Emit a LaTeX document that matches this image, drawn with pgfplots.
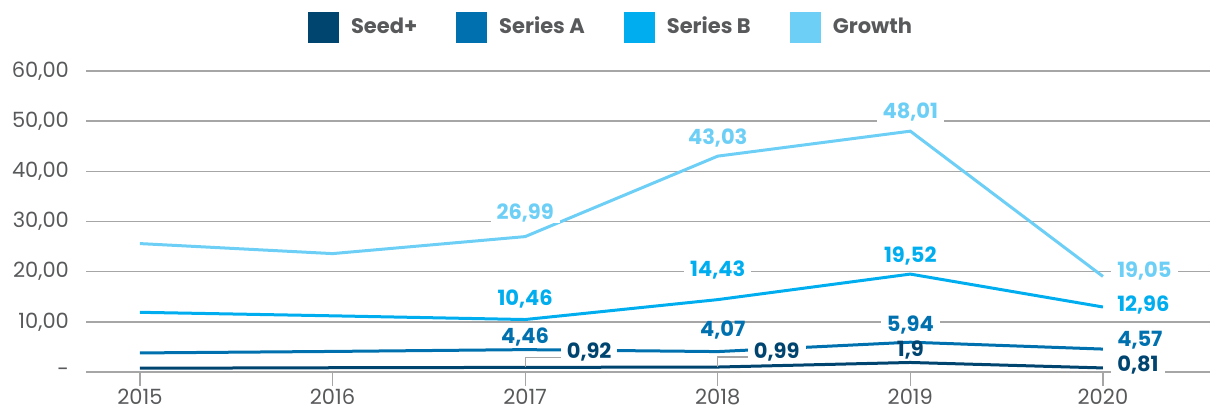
\documentclass[border=0pt]{standalone}
\usepackage{fontspec}
\setmainfont{Poppins}
\usepackage{pgfplots}
\pgfplotsset{compat=1.18}
\definecolor{cseed}{HTML}{004470}
\definecolor{csera}{HTML}{0071AE}
\definecolor{cserb}{HTML}{00AEEF}
\definecolor{cgrow}{HTML}{6DCFF6}
\definecolor{txt}{HTML}{58595B}
\definecolor{gridc}{HTML}{A6A6A6}
\begin{document}
\begin{tikzpicture}
\useasboundingbox (-43pt,-20pt) rectangle (566.5pt,186pt);
\begin{axis}[
  at={(0,0)}, anchor=south west,
  scale only axis, width=562pt, height=150.5pt,
  xmin=-0.28, xmax=5.556, ymin=0, ymax=60,
  xtick={0,1,2,3,4,5},
  xticklabels={2015,2016,2017,2018,2019,2020},
  ytick={0,10,20,30,40,50,60},
  yticklabels={-,{10,00},{20,00},{30,00},{40,00},{50,00},{60,00}},
  axis lines*=left,
  y axis line style={draw=none},
  x axis line style={draw=gridc, line width=0.75pt},
  ymajorgrids, grid style={draw=gridc, line width=0.75pt},
  ytick style={draw=none},
  xtick style={draw=gridc, line width=0.6pt},
  xtick align=outside, major tick length=7pt,
  tick label style={font=\fontsize{10.5}{12}\selectfont, text=txt},
  yticklabel style={xshift=-5pt},
  xticklabel style={yshift=2pt},
  legend style={at={(0.468,1.146)}, anchor=center, draw=none, fill=none,
    legend columns=4, font=\fontsize{10.5}{12}\selectfont\bfseries\color{txt},
    /tikz/every even column/.append style={column sep=17.5pt},
    /tikz/every odd column/.append style={column sep=4pt}},
  legend cell align=left,
  legend image code/.code={\fill[#1,draw=none] (0pt,-7.75pt) rectangle (15.5pt,7.75pt);},
  clip=false,
]
\addplot[cseed, line width=1.5pt] coordinates {(0,0.75) (1,0.85) (2,0.92) (3,0.99) (4,1.9) (5,0.81)};
\addlegendentry{Seed+}
\addplot[csera, line width=1.5pt] coordinates {(0,3.8) (1,4.1) (2,4.46) (3,4.07) (4,5.94) (5,4.57)};
\addlegendentry{Series A}
\addplot[cserb, line width=1.5pt] coordinates {(0,11.9) (1,11.2) (2,10.46) (3,14.43) (4,19.52) (5,12.96)};
\addlegendentry{Series B}
\addplot[cgrow, line width=1.5pt] coordinates {(0,25.6) (1,23.6) (2,26.99) (3,43.03) (4,48.01) (5,19.05)};
\addlegendentry{Growth}
% callout lines
\draw[gridc, line width=0.6pt] (axis cs:2,0.92) -- ++(0pt,5pt) -- ++(18pt,0pt);
\draw[gridc, line width=0.6pt] (axis cs:3,0.99) -- ++(0pt,5pt) -- ++(16pt,0pt);
\tikzset{lab/.style={font=\fontsize{10.5}{12}\selectfont\bfseries, fill=white, inner xsep=3pt, inner ysep=0.5pt}}
% Growth
\node[lab, text=cgrow] at ([yshift=12pt]axis cs:2,26.99) {26,99};
\node[lab, text=cgrow] at ([yshift=9pt]axis cs:3,43.03) {43,03};
\node[lab, text=cgrow] at ([yshift=9.5pt]axis cs:4,48.01) {48,01};
\node[lab, text=cgrow, anchor=west] at ([xshift=4pt,yshift=2.5pt]axis cs:5,19.05) {19,05};
% Series B
\node[lab, text=cserb] at ([yshift=10pt]axis cs:2,10.46) {10,46};
\node[lab, text=cserb] at ([yshift=15pt]axis cs:3,14.43) {14,43};
\node[lab, text=cserb] at ([yshift=9pt]axis cs:4,19.52) {19,52};
\node[lab, text=cserb, anchor=west] at ([xshift=4pt,yshift=1pt]axis cs:5,12.96) {12,96};
% Series A
\node[lab, text=csera, fill=none] at ([yshift=6.3pt]axis cs:2,4.46) {4,46};
\node[lab, text=csera, fill=none] at ([xshift=2.5pt,yshift=11pt]axis cs:3,4.07) {4,07};
\node[lab, text=csera] at ([yshift=8.5pt]axis cs:4,5.94) {5,94};
\node[lab, text=csera, anchor=west] at ([xshift=4pt,yshift=4.5pt]axis cs:5,4.57) {4,57};
% Seed+
\node[lab, text=cseed] at ([xshift=32pt,yshift=7.7pt]axis cs:2,0.92) {0,92};
\node[lab, text=cseed] at ([xshift=29.5pt,yshift=7.5pt]axis cs:3,0.99) {0,99};
\node[lab, text=cseed, fill=none] at ([yshift=6pt]axis cs:4,1.9) {1,9};
\node[lab, text=cseed, anchor=west] at ([xshift=4pt,yshift=1.5pt]axis cs:5,0.81) {0,81};
\end{axis}
\end{tikzpicture}
\end{document}
